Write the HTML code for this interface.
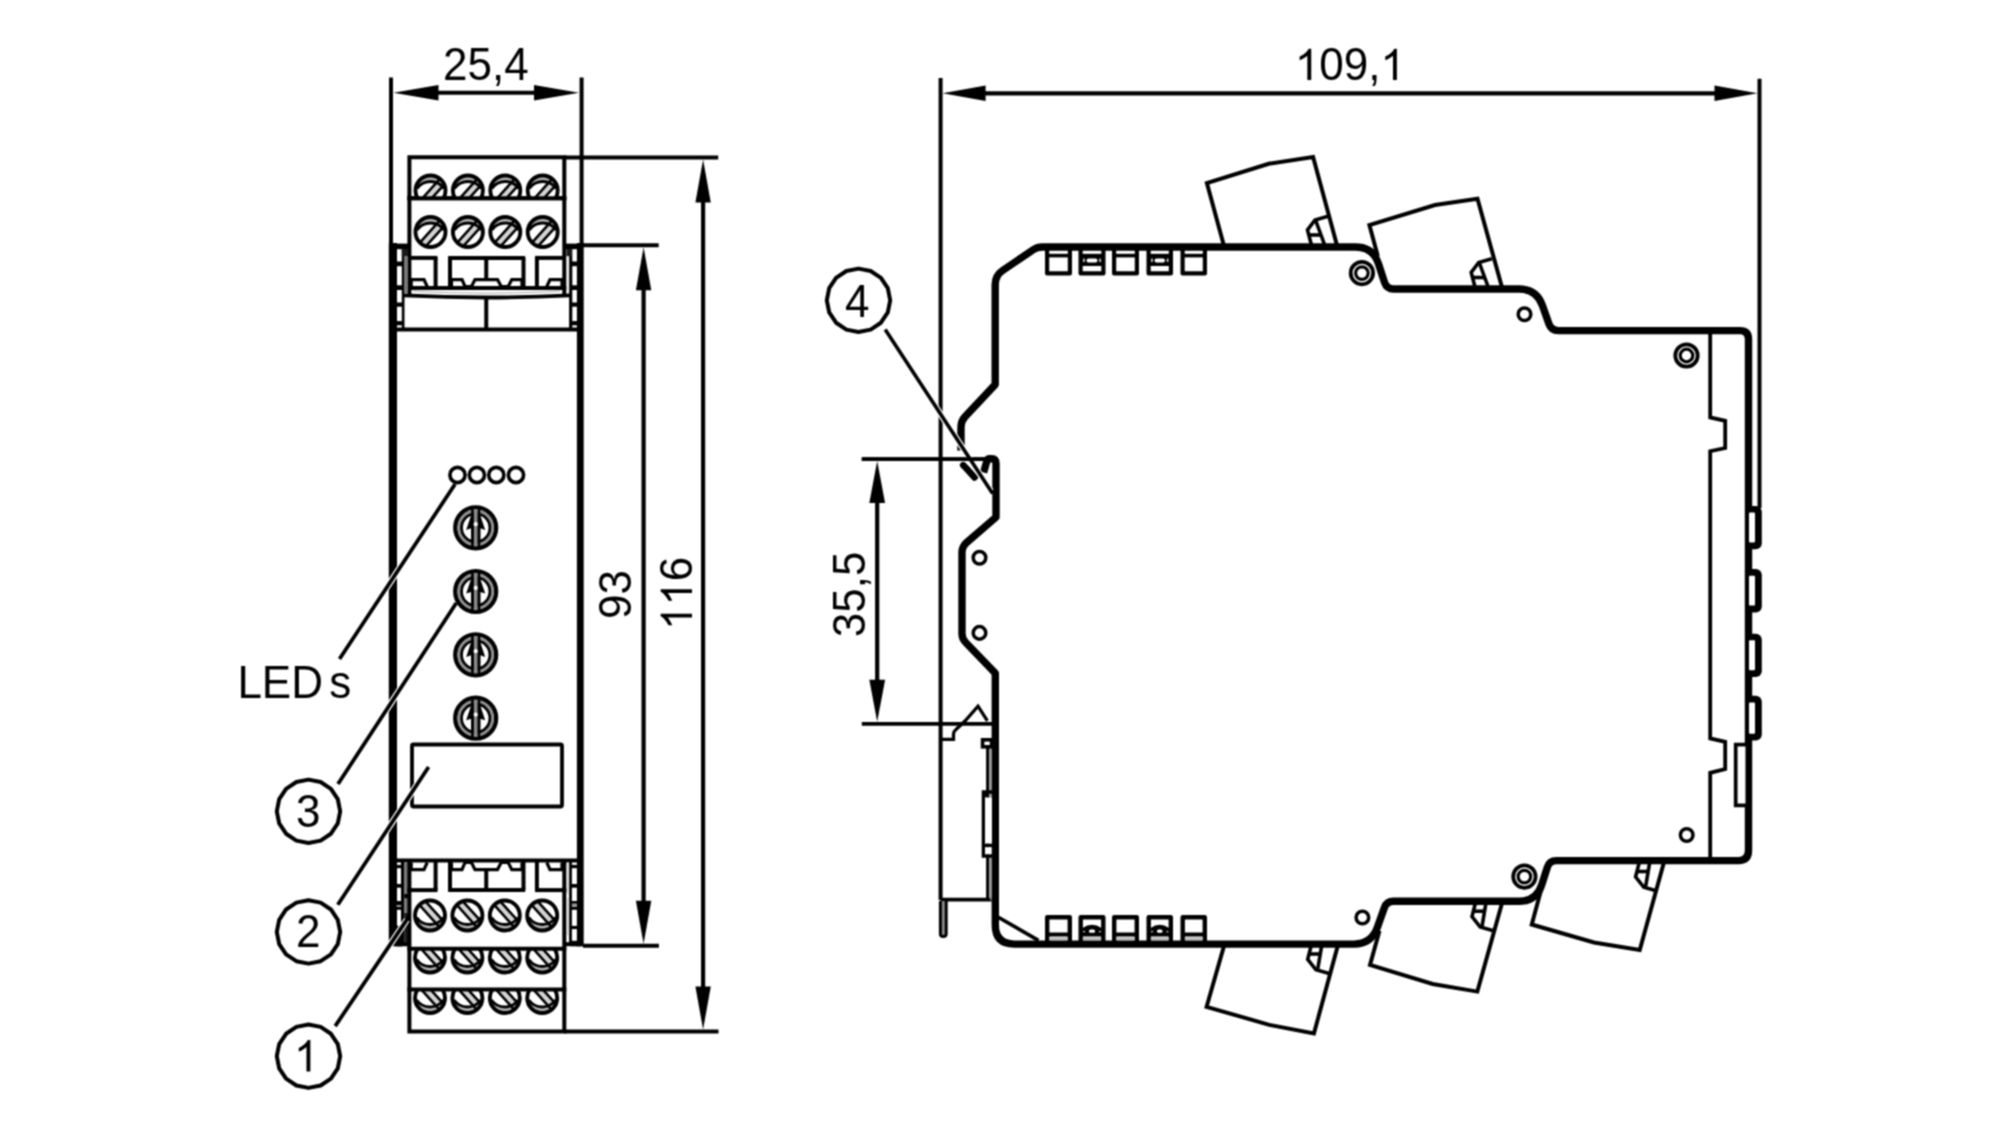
<!DOCTYPE html>
<html><head><meta charset="utf-8"><title>Dimension drawing</title>
<style>html,body{margin:0;padding:0;background:#fff;}svg{display:block;font-family:"Liberation Sans",sans-serif;}</style></head><body>
<svg width="2000" height="1127" viewBox="0 0 2000 1127">
<rect x="0" y="0" width="2000" height="1127" fill="#fff"/>
<defs>
<clipPath id="cT1"><rect x="400" y="150" width="180" height="48.3"/></clipPath>
<clipPath id="cB2"><rect x="400" y="948.7" width="180" height="60"/></clipPath>
<clipPath id="cB3"><rect x="400" y="989.4" width="180" height="60"/></clipPath>
<filter id="soft" color-interpolation-filters="sRGB" x="0" y="0" width="2000" height="1127" filterUnits="userSpaceOnUse"><feConvolveMatrix order="3" kernelMatrix="1 2 1 2 4 2 1 2 1" divisor="16" edgeMode="duplicate" preserveAlpha="true"/></filter>
</defs>
<g filter="url(#soft)"><rect x="0" y="0" width="2000" height="1127" fill="#fff"/>
<g fill="none" stroke="#000" stroke-linecap="butt" stroke-linejoin="miter">
<line x1="391" y1="77.5" x2="391" y2="246" stroke-width="4" />
<line x1="581.6" y1="77.5" x2="581.6" y2="246" stroke-width="4" />
<rect x="388.8" y="243" width="8.2" height="703" fill="#000" stroke="none"/>
<rect x="576.9" y="243" width="6.8" height="703.4" fill="#000" stroke="none"/>
<line x1="436" y1="92.75" x2="536" y2="92.75" stroke-width="4.2" />
<path d="M393.5,92.75 L438.5,85.05 L438.5,100.45 Z" fill="#000" stroke="none"/>
<path d="M579,92.75 L534,100.45 L534,85.05 Z" fill="#000" stroke="none"/>
<g transform="translate(485.8 80.3)" fill="#000" stroke="none">
<text transform="translate(-42.82 0) scale(1 1.03)" x="0" y="0" font-size="44">2</text>
<text transform="translate(-18.35 0) scale(1 1.03)" x="0" y="0" font-size="44">5</text>
<text transform="translate(6.12 0) scale(1 1.03)" x="0" y="0" font-size="44">,</text>
<text transform="translate(18.35 0) scale(1 1.03)" x="0" y="0" font-size="44">4</text>
</g>
<path d="M409.4,296 L409.4,157.3 L564.3,157.3 L564.3,296" stroke-width="4" />
<line x1="407.4" y1="198.3" x2="566.3" y2="198.3" stroke-width="4" />
<g clip-path="url(#cT1)">
<g transform="translate(430.5 190.5)"><circle cx="0" cy="0" r="15" fill="#b4b4b4" stroke="none"/><path d="M-13.4,-2 A16.4,16.4 0 0 1 13.4,-2 L13.6,0 A13.6,13.6 0 0 1 -13.6,0 Z" fill="#fff" stroke="none"/><g transform="rotate(-48)"><rect x="-14" y="-0.8" width="28" height="6.8" fill="#d4d4d4" stroke="none"/><line x1="-14.6" y1="-0.8" x2="14.6" y2="-0.8" stroke-width="2.6"/><line x1="-13.2" y1="6.1" x2="13.2" y2="6.1" stroke-width="2.6"/></g><path d="M-13.4,-2 A16.4,16.4 0 0 1 13.4,-2" stroke-width="3" fill="none"/><circle cx="0" cy="0" r="15" stroke-width="3.9" fill="none"/></g>
<g transform="translate(467.9 190.5)"><circle cx="0" cy="0" r="15" fill="#b4b4b4" stroke="none"/><path d="M-13.4,-2 A16.4,16.4 0 0 1 13.4,-2 L13.6,0 A13.6,13.6 0 0 1 -13.6,0 Z" fill="#fff" stroke="none"/><g transform="rotate(-48)"><rect x="-14" y="-0.8" width="28" height="6.8" fill="#d4d4d4" stroke="none"/><line x1="-14.6" y1="-0.8" x2="14.6" y2="-0.8" stroke-width="2.6"/><line x1="-13.2" y1="6.1" x2="13.2" y2="6.1" stroke-width="2.6"/></g><path d="M-13.4,-2 A16.4,16.4 0 0 1 13.4,-2" stroke-width="3" fill="none"/><circle cx="0" cy="0" r="15" stroke-width="3.9" fill="none"/></g>
<g transform="translate(505.3 190.5)"><circle cx="0" cy="0" r="15" fill="#b4b4b4" stroke="none"/><path d="M-13.4,-2 A16.4,16.4 0 0 1 13.4,-2 L13.6,0 A13.6,13.6 0 0 1 -13.6,0 Z" fill="#fff" stroke="none"/><g transform="rotate(-48)"><rect x="-14" y="-0.8" width="28" height="6.8" fill="#d4d4d4" stroke="none"/><line x1="-14.6" y1="-0.8" x2="14.6" y2="-0.8" stroke-width="2.6"/><line x1="-13.2" y1="6.1" x2="13.2" y2="6.1" stroke-width="2.6"/></g><path d="M-13.4,-2 A16.4,16.4 0 0 1 13.4,-2" stroke-width="3" fill="none"/><circle cx="0" cy="0" r="15" stroke-width="3.9" fill="none"/></g>
<g transform="translate(542.7 190.5)"><circle cx="0" cy="0" r="15" fill="#b4b4b4" stroke="none"/><path d="M-13.4,-2 A16.4,16.4 0 0 1 13.4,-2 L13.6,0 A13.6,13.6 0 0 1 -13.6,0 Z" fill="#fff" stroke="none"/><g transform="rotate(-48)"><rect x="-14" y="-0.8" width="28" height="6.8" fill="#d4d4d4" stroke="none"/><line x1="-14.6" y1="-0.8" x2="14.6" y2="-0.8" stroke-width="2.6"/><line x1="-13.2" y1="6.1" x2="13.2" y2="6.1" stroke-width="2.6"/></g><path d="M-13.4,-2 A16.4,16.4 0 0 1 13.4,-2" stroke-width="3" fill="none"/><circle cx="0" cy="0" r="15" stroke-width="3.9" fill="none"/></g>
</g>
<g transform="translate(430.5 232)"><circle cx="0" cy="0" r="15" fill="#b4b4b4" stroke="none"/><path d="M-13.4,-2 A16.4,16.4 0 0 1 13.4,-2 L13.6,0 A13.6,13.6 0 0 1 -13.6,0 Z" fill="#fff" stroke="none"/><g transform="rotate(-48)"><rect x="-14" y="-0.8" width="28" height="6.8" fill="#d4d4d4" stroke="none"/><line x1="-14.6" y1="-0.8" x2="14.6" y2="-0.8" stroke-width="2.6"/><line x1="-13.2" y1="6.1" x2="13.2" y2="6.1" stroke-width="2.6"/></g><path d="M-13.4,-2 A16.4,16.4 0 0 1 13.4,-2" stroke-width="3" fill="none"/><circle cx="0" cy="0" r="15" stroke-width="3.9" fill="none"/></g>
<g transform="translate(467.9 232)"><circle cx="0" cy="0" r="15" fill="#b4b4b4" stroke="none"/><path d="M-13.4,-2 A16.4,16.4 0 0 1 13.4,-2 L13.6,0 A13.6,13.6 0 0 1 -13.6,0 Z" fill="#fff" stroke="none"/><g transform="rotate(-48)"><rect x="-14" y="-0.8" width="28" height="6.8" fill="#d4d4d4" stroke="none"/><line x1="-14.6" y1="-0.8" x2="14.6" y2="-0.8" stroke-width="2.6"/><line x1="-13.2" y1="6.1" x2="13.2" y2="6.1" stroke-width="2.6"/></g><path d="M-13.4,-2 A16.4,16.4 0 0 1 13.4,-2" stroke-width="3" fill="none"/><circle cx="0" cy="0" r="15" stroke-width="3.9" fill="none"/></g>
<g transform="translate(505.3 232)"><circle cx="0" cy="0" r="15" fill="#b4b4b4" stroke="none"/><path d="M-13.4,-2 A16.4,16.4 0 0 1 13.4,-2 L13.6,0 A13.6,13.6 0 0 1 -13.6,0 Z" fill="#fff" stroke="none"/><g transform="rotate(-48)"><rect x="-14" y="-0.8" width="28" height="6.8" fill="#d4d4d4" stroke="none"/><line x1="-14.6" y1="-0.8" x2="14.6" y2="-0.8" stroke-width="2.6"/><line x1="-13.2" y1="6.1" x2="13.2" y2="6.1" stroke-width="2.6"/></g><path d="M-13.4,-2 A16.4,16.4 0 0 1 13.4,-2" stroke-width="3" fill="none"/><circle cx="0" cy="0" r="15" stroke-width="3.9" fill="none"/></g>
<g transform="translate(542.7 232)"><circle cx="0" cy="0" r="15" fill="#b4b4b4" stroke="none"/><path d="M-13.4,-2 A16.4,16.4 0 0 1 13.4,-2 L13.6,0 A13.6,13.6 0 0 1 -13.6,0 Z" fill="#fff" stroke="none"/><g transform="rotate(-48)"><rect x="-14" y="-0.8" width="28" height="6.8" fill="#d4d4d4" stroke="none"/><line x1="-14.6" y1="-0.8" x2="14.6" y2="-0.8" stroke-width="2.6"/><line x1="-13.2" y1="6.1" x2="13.2" y2="6.1" stroke-width="2.6"/></g><path d="M-13.4,-2 A16.4,16.4 0 0 1 13.4,-2" stroke-width="3" fill="none"/><circle cx="0" cy="0" r="15" stroke-width="3.9" fill="none"/></g>
<line x1="407.4" y1="198.3" x2="566.3" y2="198.3" stroke-width="4" />
<line x1="409.4" y1="257.9" x2="437.5" y2="257.9" stroke-width="4" />
<line x1="448.1" y1="257.9" x2="525.2" y2="257.9" stroke-width="4" />
<line x1="535" y1="257.9" x2="564.3" y2="257.9" stroke-width="4" />
<line x1="407.4" y1="288" x2="566.3" y2="288" stroke-width="4" />
<line x1="435.6" y1="257.9" x2="435.6" y2="288" stroke-width="4" />
<line x1="450" y1="257.9" x2="450" y2="288" stroke-width="4" />
<line x1="523.5" y1="257.9" x2="523.5" y2="288" stroke-width="4" />
<line x1="536.9" y1="257.9" x2="536.9" y2="288" stroke-width="4" />
<line x1="486.25" y1="257.9" x2="486.25" y2="279.6" stroke-width="4" />
<path d="M411.2,286.5 L411.2,279.6 L424,279.6 L427.2,286.5" stroke-width="3.2" />
<path d="M451.5,286.5 L451.5,279.6 L462,279.6 L465,286.5 L471.5,286.5 L475,279.6 L497.5,279.6 L501.2,286.5 L508.2,286.5 L511.8,279.6 L522,279.6 L522,286.5" stroke-width="3.2" />
<path d="M562,286.5 L562,279.6 L550,279.6 L546.8,286.5" stroke-width="3.2" />
<path d="M404,295.4 Q487,299.6 570,295.4" stroke-width="3.8"/>
<path d="M413,291.2 Q486,295.2 560,291.2" stroke="#aaa" stroke-width="1"/>
<rect x="393" y="243.6" width="17.7" height="5.6" fill="#000" stroke="none"/>
<rect x="563" y="243.6" width="18" height="5.6" fill="#000" stroke="none"/>
<rect x="401.8" y="249" width="2.7" height="81" fill="#000" stroke="none"/>
<rect x="401.8" y="249" width="6.2" height="7.4" fill="#1a1a1a" stroke="none"/>
<rect x="404.5" y="256.4" width="3.5" height="37" fill="#777" stroke="none"/>
<rect x="569.1" y="249" width="3.2" height="81" fill="#000" stroke="none"/>
<rect x="566.5" y="249" width="5.5" height="7.4" fill="#1a1a1a" stroke="none"/>
<rect x="566.9" y="256.4" width="2.2" height="36.3" fill="#ececec" stroke="none"/>
<rect x="396" y="261.5" width="6.5" height="4.7" fill="#000" stroke="none"/>
<rect x="571.5" y="261.5" width="6.5" height="4.7" fill="#000" stroke="none"/>
<rect x="396" y="285.3" width="6.5" height="4.7" fill="#000" stroke="none"/>
<rect x="571.5" y="285.3" width="6.5" height="4.7" fill="#000" stroke="none"/>
<rect x="396" y="302.5" width="6.5" height="4.2" fill="#000" stroke="none"/>
<rect x="571.5" y="302.5" width="6.5" height="4.2" fill="#000" stroke="none"/>
<rect x="396" y="321.1" width="6.5" height="4.2" fill="#000" stroke="none"/>
<rect x="571.5" y="321.1" width="6.5" height="4.2" fill="#000" stroke="none"/>
<line x1="393" y1="329.6" x2="580" y2="329.6" stroke-width="4" />
<line x1="486.25" y1="296" x2="486.25" y2="329.6" stroke-width="4" />
<circle cx="457.5" cy="475" r="7.6" stroke-width="3.6" fill="#fff"/>
<circle cx="476.9" cy="475" r="7.6" stroke-width="3.6" fill="#fff"/>
<circle cx="496.3" cy="475" r="7.6" stroke-width="3.6" fill="#fff"/>
<circle cx="516" cy="475" r="7.6" stroke-width="3.6" fill="#fff"/>
<g transform="translate(475.7 527.8)"><circle cx="0" cy="0" r="20.4" stroke-width="4.4" fill="#fff"/><circle cx="0" cy="0" r="16.9" stroke="#909090" stroke-width="2.8" fill="none"/><circle cx="0" cy="0" r="14.2" stroke-width="2.8" fill="#fff"/><path d="M-4.6,-14 L-4.6,-12.6 L-9.5,2.1 L-4.6,0.5 L-4.6,14 L4.6,14 L4.6,0.5 L9.5,2.1 L4.6,-12.6 L4.6,-14 Z" fill="#000" stroke="none"/><rect x="-2" y="-18.6" width="4" height="37.2" fill="#8a8a8a" stroke="none"/><rect x="-4.6" y="-19.6" width="2.6" height="39.2" fill="#000" stroke="none"/><rect x="2" y="-19.6" width="2.6" height="39.2" fill="#000" stroke="none"/><circle cx="0" cy="-3.6" r="2.1" fill="#fff" stroke="none"/></g>
<g transform="translate(475.7 591.5)"><circle cx="0" cy="0" r="20.4" stroke-width="4.4" fill="#fff"/><circle cx="0" cy="0" r="16.9" stroke="#909090" stroke-width="2.8" fill="none"/><circle cx="0" cy="0" r="14.2" stroke-width="2.8" fill="#fff"/><path d="M-4.6,-14 L-4.6,-12.6 L-9.5,2.1 L-4.6,0.5 L-4.6,14 L4.6,14 L4.6,0.5 L9.5,2.1 L4.6,-12.6 L4.6,-14 Z" fill="#000" stroke="none"/><rect x="-2" y="-18.6" width="4" height="37.2" fill="#8a8a8a" stroke="none"/><rect x="-4.6" y="-19.6" width="2.6" height="39.2" fill="#000" stroke="none"/><rect x="2" y="-19.6" width="2.6" height="39.2" fill="#000" stroke="none"/><circle cx="0" cy="-3.6" r="2.1" fill="#fff" stroke="none"/></g>
<g transform="translate(475.7 654.8)"><circle cx="0" cy="0" r="20.4" stroke-width="4.4" fill="#fff"/><circle cx="0" cy="0" r="16.9" stroke="#909090" stroke-width="2.8" fill="none"/><circle cx="0" cy="0" r="14.2" stroke-width="2.8" fill="#fff"/><path d="M-4.6,-14 L-4.6,-12.6 L-9.5,2.1 L-4.6,0.5 L-4.6,14 L4.6,14 L4.6,0.5 L9.5,2.1 L4.6,-12.6 L4.6,-14 Z" fill="#000" stroke="none"/><rect x="-2" y="-18.6" width="4" height="37.2" fill="#8a8a8a" stroke="none"/><rect x="-4.6" y="-19.6" width="2.6" height="39.2" fill="#000" stroke="none"/><rect x="2" y="-19.6" width="2.6" height="39.2" fill="#000" stroke="none"/><circle cx="0" cy="-3.6" r="2.1" fill="#fff" stroke="none"/></g>
<g transform="translate(475.7 718.2)"><circle cx="0" cy="0" r="20.4" stroke-width="4.4" fill="#fff"/><circle cx="0" cy="0" r="16.9" stroke="#909090" stroke-width="2.8" fill="none"/><circle cx="0" cy="0" r="14.2" stroke-width="2.8" fill="#fff"/><path d="M-4.6,-14 L-4.6,-12.6 L-9.5,2.1 L-4.6,0.5 L-4.6,14 L4.6,14 L4.6,0.5 L9.5,2.1 L4.6,-12.6 L4.6,-14 Z" fill="#000" stroke="none"/><rect x="-2" y="-18.6" width="4" height="37.2" fill="#8a8a8a" stroke="none"/><rect x="-4.6" y="-19.6" width="2.6" height="39.2" fill="#000" stroke="none"/><rect x="2" y="-19.6" width="2.6" height="39.2" fill="#000" stroke="none"/><circle cx="0" cy="-3.6" r="2.1" fill="#fff" stroke="none"/></g>
<rect x="412" y="744.5" width="150" height="62" stroke-width="3.8" fill="#fff" rx="1.5"/>
<line x1="393" y1="860.5" x2="580" y2="860.5" stroke-width="4" />
<line x1="409.4" y1="890.1" x2="437.5" y2="890.1" stroke-width="4" />
<line x1="448.1" y1="890.1" x2="525.2" y2="890.1" stroke-width="4" />
<line x1="535" y1="890.1" x2="564.3" y2="890.1" stroke-width="4" />
<line x1="435.6" y1="860.5" x2="435.6" y2="890.1" stroke-width="4" />
<line x1="450" y1="860.5" x2="450" y2="890.1" stroke-width="4" />
<line x1="523.5" y1="860.5" x2="523.5" y2="890.1" stroke-width="4" />
<line x1="536.9" y1="860.5" x2="536.9" y2="890.1" stroke-width="4" />
<line x1="486.25" y1="869.6" x2="486.25" y2="890.1" stroke-width="4" />
<path d="M411.2,862.5 L411.2,869.6 L424,869.6 L427.2,862.5" stroke-width="3.2" />
<path d="M451.5,862.5 L451.5,869.6 L462,869.6 L465,862.5 L471.5,862.5 L475,869.6 L497.5,869.6 L501.2,862.5 L508.2,862.5 L511.8,869.6 L522,869.6 L522,862.5" stroke-width="3.2" />
<path d="M562,862.5 L562,869.6 L550,869.6 L546.8,862.5" stroke-width="3.2" />
<rect x="401" y="860.5" width="3.2" height="85.5" fill="#000" stroke="none"/>
<rect x="404.2" y="862.6" width="3.8" height="31.2" fill="#777" stroke="none"/>
<rect x="404.2" y="898.5" width="3.8" height="14.5" fill="#777" stroke="none"/>
<rect x="569.1" y="860.5" width="2.8" height="85.5" fill="#000" stroke="none"/>
<rect x="566.9" y="862.6" width="2.2" height="31.2" fill="#ddd" stroke="none"/>
<rect x="566.9" y="898" width="2.2" height="37.2" fill="#ddd" stroke="none"/>
<rect x="396" y="864.9" width="6" height="3.3" fill="#000" stroke="none"/>
<rect x="571" y="864.9" width="7" height="3.3" fill="#000" stroke="none"/>
<rect x="396" y="884" width="6" height="3.7" fill="#000" stroke="none"/>
<rect x="571" y="884" width="7" height="3.7" fill="#000" stroke="none"/>
<rect x="396" y="901" width="6" height="4" fill="#000" stroke="none"/>
<rect x="571" y="901" width="7" height="4" fill="#000" stroke="none"/>
<rect x="396" y="906.6" width="6" height="3.2" fill="#000" stroke="none"/>
<rect x="571" y="906.6" width="7" height="3.2" fill="#000" stroke="none"/>
<rect x="396" y="925.9" width="6" height="3.2" fill="#000" stroke="none"/>
<rect x="571" y="925.9" width="7" height="3.2" fill="#000" stroke="none"/>
<rect x="396" y="940.8" width="6" height="5.4" fill="#000" stroke="none"/>
<rect x="571" y="940.8" width="7" height="5.4" fill="#000" stroke="none"/>
<rect x="396.5" y="905" width="4.7" height="1.6" fill="#999" stroke="none"/>
<rect x="571.9" y="903.5" width="5.1" height="2.8" fill="#999" stroke="none"/>
<rect x="404.2" y="893.8" width="3.8" height="4.7" fill="#000" stroke="none"/>
<rect x="404.2" y="913" width="3.8" height="33" fill="#1c1c1c" stroke="none"/>
<rect x="396" y="925.9" width="6" height="20.3" fill="#000" stroke="none"/>
<line x1="409.4" y1="860.5" x2="409.4" y2="892" stroke-width="4" />
<line x1="564.3" y1="860.5" x2="564.3" y2="892" stroke-width="4" />
<rect x="393" y="942.3" width="17" height="4" fill="#000" stroke="none"/>
<rect x="563" y="942.2" width="18" height="4" fill="#000" stroke="none"/>
<path d="M409.4,888.1 L409.4,1031.4 L564.3,1031.4 L564.3,888.1" stroke-width="4" />
<g transform="translate(430 915.5)"><g transform="scale(1,-1)"><circle cx="0" cy="0" r="15" fill="#b4b4b4" stroke="none"/><path d="M-13.4,-2 A16.4,16.4 0 0 1 13.4,-2 L13.6,0 A13.6,13.6 0 0 1 -13.6,0 Z" fill="#fff" stroke="none"/><g transform="rotate(-48)"><rect x="-14" y="-0.8" width="28" height="6.8" fill="#d4d4d4" stroke="none"/><line x1="-14.6" y1="-0.8" x2="14.6" y2="-0.8" stroke-width="2.6"/><line x1="-13.2" y1="6.1" x2="13.2" y2="6.1" stroke-width="2.6"/></g><path d="M-13.4,-2 A16.4,16.4 0 0 1 13.4,-2" stroke-width="3" fill="none"/><circle cx="0" cy="0" r="15" stroke-width="3.9" fill="none"/></g></g>
<g transform="translate(467.4 915.5)"><g transform="scale(1,-1)"><circle cx="0" cy="0" r="15" fill="#b4b4b4" stroke="none"/><path d="M-13.4,-2 A16.4,16.4 0 0 1 13.4,-2 L13.6,0 A13.6,13.6 0 0 1 -13.6,0 Z" fill="#fff" stroke="none"/><g transform="rotate(-48)"><rect x="-14" y="-0.8" width="28" height="6.8" fill="#d4d4d4" stroke="none"/><line x1="-14.6" y1="-0.8" x2="14.6" y2="-0.8" stroke-width="2.6"/><line x1="-13.2" y1="6.1" x2="13.2" y2="6.1" stroke-width="2.6"/></g><path d="M-13.4,-2 A16.4,16.4 0 0 1 13.4,-2" stroke-width="3" fill="none"/><circle cx="0" cy="0" r="15" stroke-width="3.9" fill="none"/></g></g>
<g transform="translate(504.8 915.5)"><g transform="scale(1,-1)"><circle cx="0" cy="0" r="15" fill="#b4b4b4" stroke="none"/><path d="M-13.4,-2 A16.4,16.4 0 0 1 13.4,-2 L13.6,0 A13.6,13.6 0 0 1 -13.6,0 Z" fill="#fff" stroke="none"/><g transform="rotate(-48)"><rect x="-14" y="-0.8" width="28" height="6.8" fill="#d4d4d4" stroke="none"/><line x1="-14.6" y1="-0.8" x2="14.6" y2="-0.8" stroke-width="2.6"/><line x1="-13.2" y1="6.1" x2="13.2" y2="6.1" stroke-width="2.6"/></g><path d="M-13.4,-2 A16.4,16.4 0 0 1 13.4,-2" stroke-width="3" fill="none"/><circle cx="0" cy="0" r="15" stroke-width="3.9" fill="none"/></g></g>
<g transform="translate(542.2 915.5)"><g transform="scale(1,-1)"><circle cx="0" cy="0" r="15" fill="#b4b4b4" stroke="none"/><path d="M-13.4,-2 A16.4,16.4 0 0 1 13.4,-2 L13.6,0 A13.6,13.6 0 0 1 -13.6,0 Z" fill="#fff" stroke="none"/><g transform="rotate(-48)"><rect x="-14" y="-0.8" width="28" height="6.8" fill="#d4d4d4" stroke="none"/><line x1="-14.6" y1="-0.8" x2="14.6" y2="-0.8" stroke-width="2.6"/><line x1="-13.2" y1="6.1" x2="13.2" y2="6.1" stroke-width="2.6"/></g><path d="M-13.4,-2 A16.4,16.4 0 0 1 13.4,-2" stroke-width="3" fill="none"/><circle cx="0" cy="0" r="15" stroke-width="3.9" fill="none"/></g></g>
<g clip-path="url(#cB2)">
<g transform="translate(430 957.5)"><g transform="scale(1,-1)"><circle cx="0" cy="0" r="15" fill="#b4b4b4" stroke="none"/><path d="M-13.4,-2 A16.4,16.4 0 0 1 13.4,-2 L13.6,0 A13.6,13.6 0 0 1 -13.6,0 Z" fill="#fff" stroke="none"/><g transform="rotate(-48)"><rect x="-14" y="-0.8" width="28" height="6.8" fill="#d4d4d4" stroke="none"/><line x1="-14.6" y1="-0.8" x2="14.6" y2="-0.8" stroke-width="2.6"/><line x1="-13.2" y1="6.1" x2="13.2" y2="6.1" stroke-width="2.6"/></g><path d="M-13.4,-2 A16.4,16.4 0 0 1 13.4,-2" stroke-width="3" fill="none"/><circle cx="0" cy="0" r="15" stroke-width="3.9" fill="none"/></g></g>
<g transform="translate(467.4 957.5)"><g transform="scale(1,-1)"><circle cx="0" cy="0" r="15" fill="#b4b4b4" stroke="none"/><path d="M-13.4,-2 A16.4,16.4 0 0 1 13.4,-2 L13.6,0 A13.6,13.6 0 0 1 -13.6,0 Z" fill="#fff" stroke="none"/><g transform="rotate(-48)"><rect x="-14" y="-0.8" width="28" height="6.8" fill="#d4d4d4" stroke="none"/><line x1="-14.6" y1="-0.8" x2="14.6" y2="-0.8" stroke-width="2.6"/><line x1="-13.2" y1="6.1" x2="13.2" y2="6.1" stroke-width="2.6"/></g><path d="M-13.4,-2 A16.4,16.4 0 0 1 13.4,-2" stroke-width="3" fill="none"/><circle cx="0" cy="0" r="15" stroke-width="3.9" fill="none"/></g></g>
<g transform="translate(504.8 957.5)"><g transform="scale(1,-1)"><circle cx="0" cy="0" r="15" fill="#b4b4b4" stroke="none"/><path d="M-13.4,-2 A16.4,16.4 0 0 1 13.4,-2 L13.6,0 A13.6,13.6 0 0 1 -13.6,0 Z" fill="#fff" stroke="none"/><g transform="rotate(-48)"><rect x="-14" y="-0.8" width="28" height="6.8" fill="#d4d4d4" stroke="none"/><line x1="-14.6" y1="-0.8" x2="14.6" y2="-0.8" stroke-width="2.6"/><line x1="-13.2" y1="6.1" x2="13.2" y2="6.1" stroke-width="2.6"/></g><path d="M-13.4,-2 A16.4,16.4 0 0 1 13.4,-2" stroke-width="3" fill="none"/><circle cx="0" cy="0" r="15" stroke-width="3.9" fill="none"/></g></g>
<g transform="translate(542.2 957.5)"><g transform="scale(1,-1)"><circle cx="0" cy="0" r="15" fill="#b4b4b4" stroke="none"/><path d="M-13.4,-2 A16.4,16.4 0 0 1 13.4,-2 L13.6,0 A13.6,13.6 0 0 1 -13.6,0 Z" fill="#fff" stroke="none"/><g transform="rotate(-48)"><rect x="-14" y="-0.8" width="28" height="6.8" fill="#d4d4d4" stroke="none"/><line x1="-14.6" y1="-0.8" x2="14.6" y2="-0.8" stroke-width="2.6"/><line x1="-13.2" y1="6.1" x2="13.2" y2="6.1" stroke-width="2.6"/></g><path d="M-13.4,-2 A16.4,16.4 0 0 1 13.4,-2" stroke-width="3" fill="none"/><circle cx="0" cy="0" r="15" stroke-width="3.9" fill="none"/></g></g>
</g>
<g clip-path="url(#cB3)">
<g transform="translate(430 998)"><g transform="scale(1,-1)"><circle cx="0" cy="0" r="15" fill="#b4b4b4" stroke="none"/><path d="M-13.4,-2 A16.4,16.4 0 0 1 13.4,-2 L13.6,0 A13.6,13.6 0 0 1 -13.6,0 Z" fill="#fff" stroke="none"/><g transform="rotate(-48)"><rect x="-14" y="-0.8" width="28" height="6.8" fill="#d4d4d4" stroke="none"/><line x1="-14.6" y1="-0.8" x2="14.6" y2="-0.8" stroke-width="2.6"/><line x1="-13.2" y1="6.1" x2="13.2" y2="6.1" stroke-width="2.6"/></g><path d="M-13.4,-2 A16.4,16.4 0 0 1 13.4,-2" stroke-width="3" fill="none"/><circle cx="0" cy="0" r="15" stroke-width="3.9" fill="none"/></g></g>
<g transform="translate(467.4 998)"><g transform="scale(1,-1)"><circle cx="0" cy="0" r="15" fill="#b4b4b4" stroke="none"/><path d="M-13.4,-2 A16.4,16.4 0 0 1 13.4,-2 L13.6,0 A13.6,13.6 0 0 1 -13.6,0 Z" fill="#fff" stroke="none"/><g transform="rotate(-48)"><rect x="-14" y="-0.8" width="28" height="6.8" fill="#d4d4d4" stroke="none"/><line x1="-14.6" y1="-0.8" x2="14.6" y2="-0.8" stroke-width="2.6"/><line x1="-13.2" y1="6.1" x2="13.2" y2="6.1" stroke-width="2.6"/></g><path d="M-13.4,-2 A16.4,16.4 0 0 1 13.4,-2" stroke-width="3" fill="none"/><circle cx="0" cy="0" r="15" stroke-width="3.9" fill="none"/></g></g>
<g transform="translate(504.8 998)"><g transform="scale(1,-1)"><circle cx="0" cy="0" r="15" fill="#b4b4b4" stroke="none"/><path d="M-13.4,-2 A16.4,16.4 0 0 1 13.4,-2 L13.6,0 A13.6,13.6 0 0 1 -13.6,0 Z" fill="#fff" stroke="none"/><g transform="rotate(-48)"><rect x="-14" y="-0.8" width="28" height="6.8" fill="#d4d4d4" stroke="none"/><line x1="-14.6" y1="-0.8" x2="14.6" y2="-0.8" stroke-width="2.6"/><line x1="-13.2" y1="6.1" x2="13.2" y2="6.1" stroke-width="2.6"/></g><path d="M-13.4,-2 A16.4,16.4 0 0 1 13.4,-2" stroke-width="3" fill="none"/><circle cx="0" cy="0" r="15" stroke-width="3.9" fill="none"/></g></g>
<g transform="translate(542.2 998)"><g transform="scale(1,-1)"><circle cx="0" cy="0" r="15" fill="#b4b4b4" stroke="none"/><path d="M-13.4,-2 A16.4,16.4 0 0 1 13.4,-2 L13.6,0 A13.6,13.6 0 0 1 -13.6,0 Z" fill="#fff" stroke="none"/><g transform="rotate(-48)"><rect x="-14" y="-0.8" width="28" height="6.8" fill="#d4d4d4" stroke="none"/><line x1="-14.6" y1="-0.8" x2="14.6" y2="-0.8" stroke-width="2.6"/><line x1="-13.2" y1="6.1" x2="13.2" y2="6.1" stroke-width="2.6"/></g><path d="M-13.4,-2 A16.4,16.4 0 0 1 13.4,-2" stroke-width="3" fill="none"/><circle cx="0" cy="0" r="15" stroke-width="3.9" fill="none"/></g></g>
</g>
<line x1="407.4" y1="948.75" x2="566.3" y2="948.75" stroke-width="4" />
<line x1="407.4" y1="989.4" x2="566.3" y2="989.4" stroke-width="4" />
<line x1="583" y1="245.3" x2="658.7" y2="245.3" stroke-width="4" />
<line x1="583" y1="945.8" x2="658.9" y2="945.8" stroke-width="4" />
<line x1="643.6" y1="288" x2="643.6" y2="903" stroke-width="4.2" />
<path d="M643.6,247.3 L651.3,290.3 L635.9,290.3 Z" fill="#000" stroke="none"/>
<path d="M643.6,943.8 L635.9,900.8 L651.3,900.8 Z" fill="#000" stroke="none"/>
<line x1="564.3" y1="157.4" x2="718.2" y2="157.4" stroke-width="4" />
<line x1="564.3" y1="1031.5" x2="718.5" y2="1031.5" stroke-width="4" />
<line x1="703.1" y1="200" x2="703.1" y2="989" stroke-width="4.2" />
<path d="M703.1,159.4 L710.8,202.4 L695.4,202.4 Z" fill="#000" stroke="none"/>
<path d="M703.1,1029.5 L695.4,986.5 L710.8,986.5 Z" fill="#000" stroke="none"/>
<g transform="translate(631 594.5) rotate(-90)" fill="#000" stroke="none">
<text transform="translate(-24.47 0) scale(1 1.03)" x="0" y="0" font-size="44">9</text>
<text transform="translate(0 0) scale(1 1.03)" x="0" y="0" font-size="44">3</text>
</g>
<g transform="translate(692 593.4) rotate(-90)" fill="#000" stroke="none">
<path transform="translate(-36.71 0) scale(0.02148 -0.02127)" d="M763,0 L583,0 L583,1147 Q518,1085 412.5,1023 Q307,961 223,930 L223,1104 Q374,1175 487,1276 Q600,1377 647,1472 L763,1472 Z"/>
<path transform="translate(-12.24 0) scale(0.02148 -0.02127)" d="M763,0 L583,0 L583,1147 Q518,1085 412.5,1023 Q307,961 223,930 L223,1104 Q374,1175 487,1276 Q600,1377 647,1472 L763,1472 Z"/>
<text transform="translate(12.24 0) scale(1 1.03)" x="0" y="0" font-size="44">6</text>
</g>
<g transform="translate(237.4 697.5)" fill="#000" stroke="none">
<text transform="translate(0 0) scale(1 1.03)" x="0" y="0" font-size="44">L</text>
<text transform="translate(24.47 0) scale(1 1.03)" x="0" y="0" font-size="44">E</text>
<text transform="translate(53.82 0) scale(1 1.03)" x="0" y="0" font-size="44">D</text>
</g>
<g transform="translate(329.3 697.5)" fill="#000" stroke="none">
<text transform="translate(0 0) scale(1 1.03)" x="0" y="0" font-size="44">s</text>
</g>
<path d="M308.5,779.6 L296.37,782.01 L286.08,788.88 L279.21,799.17 L276.8,811.3 L279.21,823.43 L286.08,833.72 L296.37,840.59 L308.5,843 L320.63,840.59 L330.92,833.72 L337.79,823.43 L340.2,811.3 L337.79,799.17 L330.92,788.88 L320.63,782.01 Z" stroke-width="4" fill="#fff" stroke-linejoin="round"/>
<g transform="translate(308.2 826.5)" fill="#000" stroke="none">
<text transform="translate(-12.24 0) scale(1 1.03)" x="0" y="0" font-size="44">3</text>
</g>
<path d="M308.5,900.2 L296.37,902.61 L286.08,909.48 L279.21,919.77 L276.8,931.9 L279.21,944.03 L286.08,954.32 L296.37,961.19 L308.5,963.6 L320.63,961.19 L330.92,954.32 L337.79,944.03 L340.2,931.9 L337.79,919.77 L330.92,909.48 L320.63,902.61 Z" stroke-width="4" fill="#fff" stroke-linejoin="round"/>
<g transform="translate(308.2 947.1)" fill="#000" stroke="none">
<text transform="translate(-12.24 0) scale(1 1.03)" x="0" y="0" font-size="44">2</text>
</g>
<path d="M308.5,1024.5 L296.37,1026.91 L286.08,1033.78 L279.21,1044.07 L276.8,1056.2 L279.21,1068.33 L286.08,1078.62 L296.37,1085.49 L308.5,1087.9 L320.63,1085.49 L330.92,1078.62 L337.79,1068.33 L340.2,1056.2 L337.79,1044.07 L330.92,1033.78 L320.63,1026.91 Z" stroke-width="4" fill="#fff" stroke-linejoin="round"/>
<g transform="translate(306.2 1071.4)" fill="#000" stroke="none">
<path transform="translate(-12.24 0) scale(0.02148 -0.02127)" d="M763,0 L583,0 L583,1147 Q518,1085 412.5,1023 Q307,961 223,930 L223,1104 Q374,1175 487,1276 Q600,1377 647,1472 L763,1472 Z"/>
</g>
<line x1="452.24" y1="488.37" x2="341.15" y2="656.5" stroke-width="6.4" stroke="#fff"/>
<line x1="455" y1="484.2" x2="339.5" y2="659" stroke-width="3.8" />
<line x1="453.56" y1="607.19" x2="339.64" y2="781.49" stroke-width="6.4" stroke="#fff"/>
<line x1="456.3" y1="603" x2="338" y2="784" stroke-width="3.8" />
<line x1="425.85" y1="771.17" x2="339.45" y2="902.2" stroke-width="6.4" stroke="#fff"/>
<line x1="428.6" y1="767" x2="337.8" y2="904.7" stroke-width="3.8" />
<line x1="406.81" y1="919.75" x2="336.88" y2="1023.61" stroke-width="6.4" stroke="#fff"/>
<line x1="409.6" y1="915.6" x2="335.2" y2="1026.1" stroke-width="3.8" />
<line x1="940.6" y1="78" x2="940.6" y2="900" stroke-width="4" />
<line x1="1759.5" y1="78.7" x2="1759.5" y2="508" stroke-width="4" />
<line x1="984" y1="93.3" x2="1716" y2="93.3" stroke-width="4.2" />
<path d="M942.6,93.3 L985.6,85.6 L985.6,101 Z" fill="#000" stroke="none"/>
<path d="M1757.5,93.3 L1714.5,101 L1714.5,85.6 Z" fill="#000" stroke="none"/>
<g transform="translate(1349.9 80.1)" fill="#000" stroke="none">
<path transform="translate(-55.06 0) scale(0.02148 -0.02127)" d="M763,0 L583,0 L583,1147 Q518,1085 412.5,1023 Q307,961 223,930 L223,1104 Q374,1175 487,1276 Q600,1377 647,1472 L763,1472 Z"/>
<text transform="translate(-30.58 0) scale(1 1.03)" x="0" y="0" font-size="44">0</text>
<text transform="translate(-6.11 0) scale(1 1.03)" x="0" y="0" font-size="44">9</text>
<text transform="translate(18.36 0) scale(1 1.03)" x="0" y="0" font-size="44">,</text>
<path transform="translate(30.58 0) scale(0.02148 -0.02127)" d="M763,0 L583,0 L583,1147 Q518,1085 412.5,1023 Q307,961 223,930 L223,1104 Q374,1175 487,1276 Q600,1377 647,1472 L763,1472 Z"/>
</g>
<path d="M1223.75,245 L1206.9,183.1 L1268.75,163.75 L1313.1,156.9 L1336.9,245" stroke-width="4" stroke-linejoin="miter"/>
<path d="M1377.8,256 L1369.4,225 L1435,205 L1477.5,198.75 L1501.9,287" stroke-width="4" stroke-linejoin="miter"/>
<path d="M1224,946 L1206.6,1006.8 L1269.3,1024.85 L1313.95,1033.4 L1337.7,946" stroke-width="4" stroke-linejoin="miter"/>
<path d="M1379.5,930.8 L1370,965 L1432.7,984 L1477.35,991.6 L1502.05,903" stroke-width="4" stroke-linejoin="miter"/>
<path d="M1547,868 L1531.75,924.5 L1594,942.5 L1639.75,950 L1663.75,863" stroke-width="4" stroke-linejoin="miter"/>
<path d="M1328.1,216.3 L1315,220 L1307.5,230 L1311.3,244.5" stroke-width="3.6" />
<path d="M1315.5,220 L1324.5,244.5" stroke-width="3.6" />
<path d="M1309,235 L1320.5,235" stroke-width="3.6" />
<path d="M1491.8,258.8 L1478.7,262.5 L1471.2,272.5 L1475,287" stroke-width="3.6" />
<path d="M1479.2,262.5 L1488.2,287" stroke-width="3.6" />
<path d="M1472.7,277.5 L1484.2,277.5" stroke-width="3.6" />
<path d="M1311.1,946 L1307.7,959.3 L1315.9,969.8 L1329.2,973.6" stroke-width="3.6" />
<path d="M1321.6,946 L1317.8,968.8" stroke-width="3.6" />
<path d="M1308.5,954 L1320,954" stroke-width="3.6" />
<path d="M1475.4,903.2 L1472,916.5 L1480.2,927 L1493.5,930.8" stroke-width="3.6" />
<path d="M1485.9,903.2 L1482.1,926" stroke-width="3.6" />
<path d="M1472.8,911.2 L1484.3,911.2" stroke-width="3.6" />
<path d="M1639,863.5 L1635.6,876.8 L1643.8,887.3 L1657.1,891.1" stroke-width="3.6" />
<path d="M1649.5,863.5 L1645.7,886.3" stroke-width="3.6" />
<path d="M1636.4,871.5 L1647.9,871.5" stroke-width="3.6" />
<path d="M961,450.5 L961,427 Q961,421 965.11,416.63 L995.13,384.67 Q995.2,384.6 995.2,384.5 L995.2,284.5 Q995.2,275.5 1002.65,270.45 L1033.16,249.8 Q1037.3,247 1042.3,247 L1355.5,247 Q1373,247 1378.43,263.64 L1384.53,282.35 Q1386.7,289 1393.7,289 L1519.1,289 Q1536.6,289 1542.43,305.5 L1548.97,324 Q1551.3,330.6 1558.3,330.6 L1740,330.6 Q1748.5,330.6 1748.5,339.1 L1748.5,850.6 Q1748.5,860.6 1738.5,860.6 L1556.4,860.6 Q1549.4,860.6 1547.29,867.27 L1541.79,884.62 Q1536.5,901.3 1519,901.3 L1393.6,901.3 Q1386.6,901.3 1384.27,907.9 L1377.32,927.6 Q1371.5,944.1 1354,944.1 L1014.3,944.1 Q995.3,944.1 995.3,925.1 L995.3,673.3 Q995.3,673.2 995.23,673.13 L965.47,642.2 Q962,638.6 962,633.6 L962,552.5 Q962,546.5 966.55,542.58 L995.92,517.27 Q996,517.2 996,517.1 L996,463.8 Q996,458.8 991.75,458.8 L989.5,458.8 Q987.5,458.8 986.95,460.72 L983.6,472.5" stroke-width="7.4" stroke-linejoin="miter"/>
<path d="M963.2,465.2 L966,468 L974.6,477.4" stroke-width="6.6" stroke-linecap="round" stroke-linejoin="round"/>
<path d="M1047.1,248 L1047.1,273.4 L1069.9,273.4 L1069.9,248" stroke-width="4.2" stroke-linejoin="round"/>
<line x1="1047" y1="255.6" x2="1070" y2="255.6" stroke-width="3.6" />
<path d="M1080.6,248 L1080.6,273.4 L1103.4,273.4 L1103.4,248" stroke-width="4.2" stroke-linejoin="round"/>
<line x1="1080.5" y1="255.6" x2="1103.5" y2="255.6" stroke-width="3.6" />
<rect x="1080.5" y="255.6" width="23" height="10.4" fill="#000" stroke="none"/>
<rect x="1086.5" y="258.4" width="11" height="4" rx="2" fill="#fff" stroke="none"/>
<rect x="1083.1" y="258.6" width="1.6" height="3.4" fill="#ddd" stroke="none"/>
<rect x="1099.3" y="258.6" width="1.6" height="3.4" fill="#ddd" stroke="none"/>
<path d="M1114.1,248 L1114.1,273.4 L1136.9,273.4 L1136.9,248" stroke-width="4.2" stroke-linejoin="round"/>
<line x1="1114" y1="255.6" x2="1137" y2="255.6" stroke-width="3.6" />
<path d="M1148.6,248 L1148.6,273.4 L1170.9,273.4 L1170.9,248" stroke-width="4.2" stroke-linejoin="round"/>
<line x1="1148.5" y1="255.6" x2="1171" y2="255.6" stroke-width="3.6" />
<rect x="1148.5" y="255.6" width="22.5" height="10.4" fill="#000" stroke="none"/>
<rect x="1154.5" y="258.4" width="10.5" height="4" rx="2" fill="#fff" stroke="none"/>
<rect x="1151.1" y="258.6" width="1.6" height="3.4" fill="#ddd" stroke="none"/>
<rect x="1166.8" y="258.6" width="1.6" height="3.4" fill="#ddd" stroke="none"/>
<path d="M1182.6,248 L1182.6,273.4 L1204.9,273.4 L1204.9,248" stroke-width="4.2" stroke-linejoin="round"/>
<line x1="1182.5" y1="255.6" x2="1205" y2="255.6" stroke-width="3.6" />
<path d="M1047.2,942 L1047.2,917.2 L1069.8,917.2 L1069.8,942" stroke-width="4.4" stroke-linejoin="round"/>
<line x1="1047" y1="934.5" x2="1070" y2="934.5" stroke-width="4" />
<rect x="1049.4" y="937.4" width="18.2" height="2.6" fill="#bbb" stroke="none"/>
<path d="M1080.7,942 L1080.7,917.2 L1103.3,917.2 L1103.3,942" stroke-width="4.4" stroke-linejoin="round"/>
<line x1="1080.5" y1="934.5" x2="1103.5" y2="934.5" stroke-width="4" />
<rect x="1082.9" y="937.4" width="18.2" height="2.6" fill="#bbb" stroke="none"/>
<path d="M1082.5,933 L1082.5,928 Q1092,921.5 1101.5,928 L1101.5,933 Z" fill="#000" stroke="none"/>
<rect x="1089" y="929.4" width="6" height="3.4" rx="1.6" fill="#fff" stroke="none"/>
<circle cx="1084.1" cy="931.6" r="0.9" fill="#ddd" stroke="none"/>
<circle cx="1099.9" cy="931.6" r="0.9" fill="#ddd" stroke="none"/>
<path d="M1114.2,942 L1114.2,917.2 L1136.8,917.2 L1136.8,942" stroke-width="4.4" stroke-linejoin="round"/>
<line x1="1114" y1="934.5" x2="1137" y2="934.5" stroke-width="4" />
<rect x="1116.4" y="937.4" width="18.2" height="2.6" fill="#bbb" stroke="none"/>
<path d="M1148.7,942 L1148.7,917.2 L1170.8,917.2 L1170.8,942" stroke-width="4.4" stroke-linejoin="round"/>
<line x1="1148.5" y1="934.5" x2="1171" y2="934.5" stroke-width="4" />
<rect x="1150.9" y="937.4" width="17.7" height="2.6" fill="#bbb" stroke="none"/>
<path d="M1150.5,933 L1150.5,928 Q1159.75,921.5 1169,928 L1169,933 Z" fill="#000" stroke="none"/>
<rect x="1157" y="929.4" width="5.5" height="3.4" rx="1.6" fill="#fff" stroke="none"/>
<circle cx="1152.1" cy="931.6" r="0.9" fill="#ddd" stroke="none"/>
<circle cx="1167.4" cy="931.6" r="0.9" fill="#ddd" stroke="none"/>
<path d="M1182.7,942 L1182.7,917.2 L1204.8,917.2 L1204.8,942" stroke-width="4.4" stroke-linejoin="round"/>
<line x1="1182.5" y1="934.5" x2="1205" y2="934.5" stroke-width="4" />
<rect x="1184.9" y="937.4" width="17.7" height="2.6" fill="#bbb" stroke="none"/>
<line x1="997" y1="916.5" x2="1038.4" y2="940.4" stroke-width="3.6" />
<g transform="translate(1361.9 273.1)"><circle cx="0" cy="0" r="11.2" stroke-width="3.8" fill="#fff"/><circle cx="0" cy="0" r="6.3" stroke-width="3.2" fill="#fff"/></g>
<g transform="translate(1686.5 355.5)"><circle cx="0" cy="0" r="11.2" stroke-width="3.8" fill="#fff"/><circle cx="0" cy="0" r="6.3" stroke-width="3.2" fill="#fff"/></g>
<g transform="translate(1524.4 876.6)"><circle cx="0" cy="0" r="11.2" stroke-width="3.8" fill="#fff"/><circle cx="0" cy="0" r="6.3" stroke-width="3.2" fill="#fff"/></g>
<g transform="translate(1524.5 314.3)"><circle cx="0" cy="0" r="6.3" stroke-width="3.5" fill="#fff"/></g>
<g transform="translate(1686.7 835)"><circle cx="0" cy="0" r="6.3" stroke-width="3.5" fill="#fff"/></g>
<g transform="translate(1362.4 917.5)"><circle cx="0" cy="0" r="6.3" stroke-width="3.5" fill="#fff"/></g>
<g transform="translate(979.5 557.8)"><circle cx="0" cy="0" r="6.3" stroke-width="3.5" fill="#fff"/></g>
<g transform="translate(979.5 632.9)"><circle cx="0" cy="0" r="6.3" stroke-width="3.5" fill="#fff"/></g>
<path d="M1710.2,330.6 L1710.2,417.4 L1725.2,420.8 L1725.2,448 L1710.2,451.2 L1710.2,738.4 L1725.2,741.8 L1725.2,769 L1710.2,772.8 L1710.2,860.6" stroke-width="3.8" />
<rect x="1735.7" y="744.6" width="11.6" height="60.8" stroke-width="3.7" fill="#fff"/>
<rect x="1745" y="506" width="16.8" height="43.2" rx="6" fill="#000" stroke="none"/>
<rect x="1749" y="512.6" width="6" height="29.8" rx="0.8" fill="#fff" stroke="none"/>
<rect x="1745" y="569.1" width="16.8" height="43.3" rx="6" fill="#000" stroke="none"/>
<rect x="1749" y="575.7" width="6" height="29.9" rx="0.8" fill="#fff" stroke="none"/>
<rect x="1745" y="633.7" width="16.8" height="43.3" rx="6" fill="#000" stroke="none"/>
<rect x="1749" y="640.3" width="6" height="29.9" rx="0.8" fill="#fff" stroke="none"/>
<rect x="1745" y="695.8" width="16.8" height="44.7" rx="6" fill="#000" stroke="none"/>
<rect x="1749" y="702.4" width="6" height="31.3" rx="0.8" fill="#fff" stroke="none"/>
<line x1="940.6" y1="899.6" x2="991.5" y2="899.6" stroke-width="3.8" />
<path d="M940.4,901 L940.4,934 Q940.4,936.6 943.2,936.6 Q946.2,936.6 946.2,934 L946.2,901" stroke-width="3" fill="#8c8c8c"/>
<line x1="987.7" y1="748" x2="987.7" y2="899.6" stroke-width="3.2" />
<line x1="990.6" y1="748" x2="990.6" y2="899.6" stroke-width="1.6" stroke="#8c8c8c"/>
<rect x="982.6" y="739.8" width="9" height="7" stroke-width="3.6" fill="#fff"/>
<path d="M992,792 L983.4,792 L983.4,856 L992,856 M983.4,845.4 L992,845.4 M983.4,795.5 L988,795.5" stroke-width="3.4" fill="none"/>
<rect x="985.2" y="797.5" width="6.6" height="46" fill="#fff" stroke="none"/>
<rect x="985.2" y="847.2" width="6.2" height="7" fill="#fff" stroke="none"/>
<path d="M940.6,739.3 L953.5,739.3 L953.5,734 Q953.5,731.5 956,729.5 L965,721 L978,706.2 L987.4,720.8" stroke-width="3.3" stroke-linejoin="miter"/>
<line x1="861.8" y1="459.1" x2="990" y2="459.1" stroke-width="3.8" />
<line x1="861.8" y1="723.8" x2="992" y2="723.8" stroke-width="3.8" />
<line x1="877.2" y1="500" x2="877.2" y2="682" stroke-width="4.2" />
<path d="M877.2,461 L885.1,503 L869.3,503 Z" fill="#000" stroke="none"/>
<path d="M877.2,721.8 L869.3,679.8 L885.1,679.8 Z" fill="#000" stroke="none"/>
<g transform="translate(864.9 594.4) rotate(-90)" fill="#000" stroke="none">
<text transform="translate(-42.82 0) scale(1 1.03)" x="0" y="0" font-size="44">3</text>
<text transform="translate(-18.35 0) scale(1 1.03)" x="0" y="0" font-size="44">5</text>
<text transform="translate(6.12 0) scale(1 1.03)" x="0" y="0" font-size="44">,</text>
<text transform="translate(18.35 0) scale(1 1.03)" x="0" y="0" font-size="44">5</text>
</g>
<path d="M858.5,268.6 L846.37,271.01 L836.08,277.88 L829.21,288.17 L826.8,300.3 L829.21,312.43 L836.08,322.72 L846.37,329.59 L858.5,332 L870.63,329.59 L880.92,322.72 L887.79,312.43 L890.2,300.3 L887.79,288.17 L880.92,277.88 L870.63,271.01 Z" stroke-width="4" fill="#fff" stroke-linejoin="round"/>
<g transform="translate(857.2 316.9)" fill="#000" stroke="none">
<text transform="translate(-12.24 0) scale(1 1.03)" x="0" y="0" font-size="44">4</text>
</g>
<line x1="887.94" y1="333.68" x2="990.96" y2="491.09" stroke-width="6.2" stroke="#fff"/>
<line x1="885.2" y1="329.5" x2="992.6" y2="493.6" stroke-width="3.6" />
<line x1="861.8" y1="459.1" x2="990" y2="459.1" stroke-width="3.8" />
</g>
</g>
</svg></body></html>
